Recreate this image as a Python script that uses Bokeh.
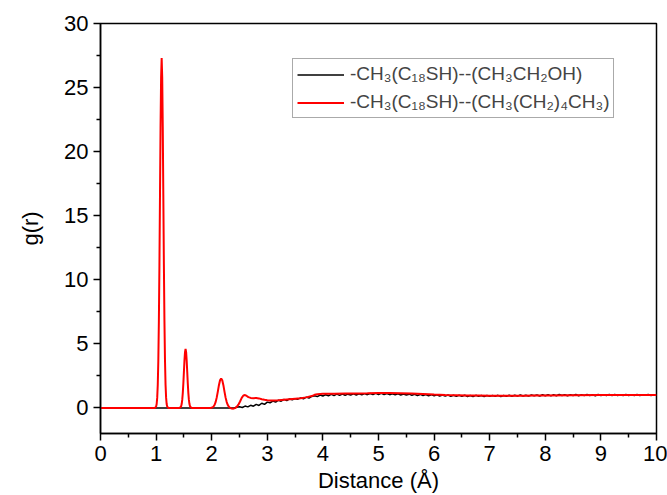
import numpy as np
from bokeh.plotting import figure
from bokeh.models import Legend, LegendItem, Range1d, FixedTicker
from bokeh.embed import file_html
from bokeh.resources import INLINE

# ---- data ----
black_x_head = [0.0, 1.0, 2.0, 2.35]
black_y_head = [0.0, 0.0, 0.0, 0.0]
black_x_tail = list(np.round(np.arange(2.40, 10.001, 0.05), 2))
black_y_tail = [
    0.00, 0.04, 0.08, 0.03, 0.14, 0.08, 0.20, 0.13, 0.27, 0.19,
    0.36, 0.27, 0.45, 0.40, 0.53, 0.45, 0.60, 0.52, 0.66, 0.57,
    0.70, 0.64, 0.72, 0.68, 0.78, 0.71, 0.84, 0.76, 0.89, 0.95,
    0.88, 1.00, 0.93, 1.03, 0.95, 1.05, 0.96, 1.07, 0.98, 1.08,
    0.99, 1.07, 1.00, 1.09, 1.01, 1.10, 1.02, 1.11, 1.03, 1.12,
    1.04, 1.13, 1.05, 1.13, 1.04, 1.12, 1.03, 1.10, 1.02, 1.09,
    1.01, 1.08, 1.00, 1.07, 0.99, 1.06, 0.97, 1.05, 0.96, 1.04,
    0.95, 1.03, 0.94, 1.02, 0.93, 1.01, 0.92, 1.00, 0.91, 0.99,
    0.90, 0.98, 0.91, 0.99, 0.89, 0.97, 0.88, 0.98, 0.90, 0.97,
    0.89, 0.96, 0.90, 0.97, 0.91, 0.98, 0.88, 0.96, 0.90, 0.99,
    0.91, 0.98, 0.92, 1.00, 0.93, 0.99, 0.92, 1.01, 0.94, 1.00,
    0.93, 1.02, 0.95, 1.03, 0.94, 1.02, 0.95, 1.04, 0.96, 1.02,
    0.95, 1.03, 0.96, 1.04, 0.95, 1.02, 0.96, 1.05, 0.97, 1.03,
    0.95, 1.04, 0.97, 1.03, 0.96, 1.04, 0.97, 1.05, 0.96, 1.03,
    0.97, 1.04, 0.96, 1.03, 0.97, 1.05, 0.96, 1.03, 0.98, 1.04,
    0.97, 1.03, 1.00,
]
black_x = black_x_head + black_x_tail
black_y = black_y_head + black_y_tail

red_x = [
    0.00, 0.98, 1.00, 1.01, 1.02, 1.03, 1.04, 1.05, 1.06, 1.07, 1.08, 1.09,
    1.10, 1.11, 1.12, 1.13, 1.14, 1.15, 1.16, 1.17, 1.18, 1.19, 1.20, 1.22,
    1.42, 1.44, 1.45, 1.46, 1.47, 1.48, 1.49, 1.50, 1.51, 1.52, 1.53, 1.54,
    1.55, 1.56, 1.57, 1.58, 1.59, 1.60, 1.61, 1.62, 1.64,
    1.98, 2.01, 2.03, 2.05, 2.07, 2.09, 2.11, 2.13, 2.15, 2.17, 2.19, 2.21,
    2.23, 2.25, 2.27, 2.29, 2.31, 2.33, 2.36, 2.39, 2.42,
    2.45, 2.48, 2.51, 2.54, 2.57, 2.60, 2.63, 2.66, 2.70, 2.75, 2.80, 2.85,
    2.90, 2.95, 3.00, 3.05, 3.10, 3.20, 3.30, 3.40, 3.50, 3.60, 3.70, 3.80,
    3.85, 3.90, 4.00, 4.20, 4.40, 4.60, 4.80, 5.00, 5.20, 5.40, 5.60, 5.80,
    6.00, 6.20, 6.40, 6.60, 6.80, 7.00, 7.20, 7.40, 7.60, 7.80, 8.00, 8.50,
    9.00, 9.50, 10.00,
]
red_y = [
    0.0, 0.0, 0.1, 0.3, 0.8, 1.8, 3.7, 6.8, 11.2, 16.6, 21.9, 25.8,
    27.3, 25.8, 21.9, 16.6, 11.2, 6.8, 3.7, 1.8, 0.8, 0.3, 0.1, 0.0,
    0.0, 0.05, 0.13, 0.3, 0.62, 1.15, 1.9, 2.8, 3.7, 4.35, 4.6, 4.35,
    3.7, 2.8, 1.9, 1.15, 0.62, 0.3, 0.13, 0.05, 0.0,
    0.0, 0.03, 0.09, 0.22, 0.44, 0.80, 1.27, 1.77, 2.15, 2.3, 2.15, 1.77,
    1.27, 0.80, 0.45, 0.22, 0.08, 0.0, -0.05, -0.06, -0.02,
    0.08, 0.25, 0.50, 0.78, 0.97, 1.00, 0.93, 0.84, 0.78, 0.76, 0.77, 0.74,
    0.68, 0.63, 0.60, 0.58, 0.57, 0.60, 0.64, 0.68, 0.72, 0.76, 0.82, 0.92,
    1.02, 1.07, 1.10, 1.11, 1.12, 1.13, 1.14, 1.16, 1.17, 1.15, 1.12, 1.08,
    1.04, 1.01, 0.99, 0.97, 0.96, 0.95, 0.94, 0.94, 0.95, 0.96, 0.97, 0.99,
    1.00, 1.00, 1.00,
]

x_ticks = [0, 1, 2, 3, 4, 5, 6, 7, 8, 9, 10]
x_minor = [0.5, 1.5, 2.5, 3.5, 4.5, 5.5, 6.5, 7.5, 8.5, 9.5]
y_ticks = [0, 5, 10, 15, 20, 25, 30]
y_minor = [-2.5, 2.5, 7.5, 12.5, 17.5, 22.5, 27.5]
label_black = "-CH\u2083(C\u2081\u2088SH)--(CH\u2083CH\u2082OH)"
label_red = "-CH\u2083(C\u2081\u2088SH)--(CH\u2083(CH\u2082)\u2084CH\u2083)"

FONT = "Liberation Sans"

p = figure(width=667, height=495, output_backend="svg", toolbar_location=None,
           x_range=Range1d(0, 10), y_range=Range1d(-2, 30),
           min_border_left=100, min_border_right=11, min_border_top=23,
           min_border_bottom=62)
p.grid.visible = False
p.outline_line_color = "black"
p.outline_line_width = 1.5
p.background_fill_color = "white"
p.border_fill_color = "white"

r_black = p.line(black_x, black_y, line_color="black", line_width=1.5)
r_red = p.line(red_x, red_y, line_color="#ff0000", line_width=2)

for ax in (p.xaxis[0], p.yaxis[0]):
    ax.axis_line_width = 1.5
    ax.major_tick_line_width = 1.5
    ax.minor_tick_line_width = 1.5
    ax.major_tick_in = 0
    ax.major_tick_out = 7
    ax.minor_tick_in = 0
    ax.minor_tick_out = 4
    ax.major_label_text_font = FONT
    ax.major_label_text_font_size = "22px"
    ax.major_label_text_color = "black"
    ax.axis_label_text_font = FONT
    ax.axis_label_text_font_size = "22px"
    ax.axis_label_text_font_style = "normal"
    ax.axis_label_text_color = "black"
    ax.major_label_standoff = 5

p.xaxis.ticker = FixedTicker(ticks=x_ticks, minor_ticks=x_minor)
p.yaxis.ticker = FixedTicker(ticks=y_ticks, minor_ticks=y_minor)
p.xaxis.axis_label = "Distance (Å)"
p.yaxis.axis_label = "g(r)"
p.xaxis.axis_label_standoff = 4
p.yaxis.axis_label_standoff = 18

legend = Legend(items=[LegendItem(label=label_black, renderers=[r_black]),
                       LegendItem(label=label_red, renderers=[r_red])],
                location=(192, 315))
legend.label_text_font = FONT
legend.label_text_font_size = "19px"
legend.label_height = 21
legend.glyph_height = 21
legend.glyph_width = 47
legend.label_standoff = 6
legend.spacing = 6
legend.padding = 4
legend.margin = 0
legend.border_line_color = "#555555"
legend.border_line_width = 1
legend.background_fill_alpha = 1
p.add_layout(legend, "center")

open("out.html", "w").write(file_html(p, INLINE))
